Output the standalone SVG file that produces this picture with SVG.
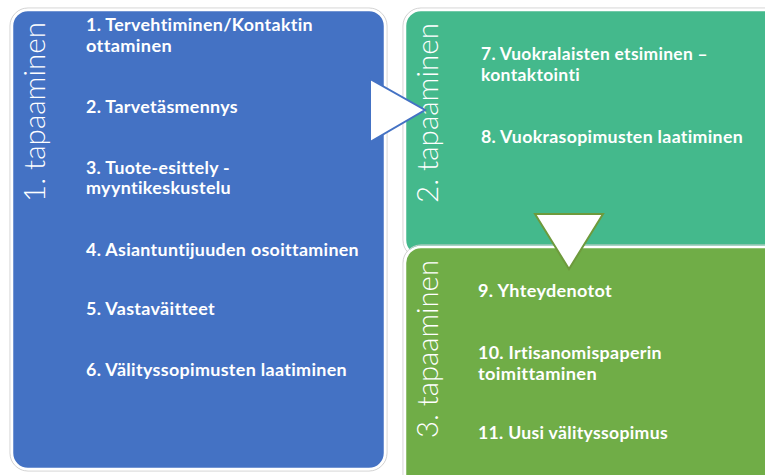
<svg xmlns="http://www.w3.org/2000/svg" width="765" height="475" viewBox="0 0 765 475">
<style>
.box{stroke:#ffffff;stroke-width:2.5}
.outline{fill:none;stroke:#d0d0d0;stroke-width:1}
.item{font-family:Lato,"Liberation Sans",sans-serif;font-weight:700;font-size:16.5px;fill:#ffffff;font-variant-ligatures:none;letter-spacing:0.3px}
.lab{font-family:Lato,"Liberation Sans",sans-serif;font-weight:300;font-size:29px;fill:#ffffff}
</style>
<rect width="765" height="475" fill="#ffffff"/>
<g id="node-1">
<rect class="outline" x="10" y="8" width="377" height="463" rx="18"/>
<rect class="box" x="12" y="10" width="373" height="459" rx="16" fill="#4472C4"/>
<text class="lab" transform="translate(45,202) rotate(-90)" textLength="180" lengthAdjust="spacingAndGlyphs">1. tapaaminen</text>
<text class="item" x="86" y="31" textLength="227" lengthAdjust="spacingAndGlyphs">1. Tervehtiminen/Kontaktin</text>
<text class="item" x="86" y="52" textLength="86" lengthAdjust="spacingAndGlyphs">ottaminen</text>
<text class="item" x="86" y="113" textLength="152" lengthAdjust="spacingAndGlyphs">2. Tarvetäsmennys</text>
<text class="item" x="86" y="174" textLength="144" lengthAdjust="spacingAndGlyphs">3. Tuote-esittely -</text>
<text class="item" x="86" y="194" textLength="145" lengthAdjust="spacingAndGlyphs">myyntikeskustelu</text>
<text class="item" x="86" y="256" textLength="273" lengthAdjust="spacingAndGlyphs">4. Asiantuntijuuden osoittaminen</text>
<text class="item" x="86" y="315" textLength="129" lengthAdjust="spacingAndGlyphs">5. Vastaväitteet</text>
<text class="item" x="86" y="376" textLength="261" lengthAdjust="spacingAndGlyphs">6. Välityssopimusten laatiminen</text>
</g>
<g id="node-2">
<rect class="outline" x="403" y="8" width="380" height="250" rx="18"/>
<rect class="box" x="405" y="10" width="376" height="246" rx="16" fill="#44B98C"/>
<text class="lab" transform="translate(438,203) rotate(-90)" textLength="180" lengthAdjust="spacingAndGlyphs">2. tapaaminen</text>
<text class="item" x="481" y="60" textLength="227" lengthAdjust="spacingAndGlyphs">7. Vuokralaisten etsiminen –</text>
<text class="item" x="481" y="81" textLength="99" lengthAdjust="spacingAndGlyphs">kontaktointi</text>
<text class="item" x="481" y="143" textLength="262" lengthAdjust="spacingAndGlyphs">8. Vuokrasopimusten laatiminen</text>
</g>
<g id="node-3">
<rect class="outline" x="403" y="245" width="380" height="250" rx="18"/>
<rect class="box" x="405" y="247" width="376" height="246" rx="16" fill="#70AD47"/>
<text class="lab" transform="translate(438,438) rotate(-90)" textLength="178" lengthAdjust="spacingAndGlyphs">3. tapaaminen</text>
<text class="item" x="478" y="297" textLength="134" lengthAdjust="spacingAndGlyphs">9. Yhteydenotot</text>
<text class="item" x="478" y="359" textLength="184" lengthAdjust="spacingAndGlyphs">10. Irtisanomispaperin</text>
<text class="item" x="478" y="380" textLength="119" lengthAdjust="spacingAndGlyphs">toimittaminen</text>
<text class="item" x="478" y="439" textLength="190" lengthAdjust="spacingAndGlyphs">11. Uusi välityssopimus</text>
</g>
<g id="connectors">
<polygon points="370,79 370,142 425,110" fill="#ffffff" stroke="#4472C4" stroke-width="2" stroke-linejoin="miter"/>
<polygon points="535,214 603,214 569,269" fill="#ffffff" stroke="#6E9A3C" stroke-width="2" stroke-linejoin="miter"/>
</g>
</svg>
